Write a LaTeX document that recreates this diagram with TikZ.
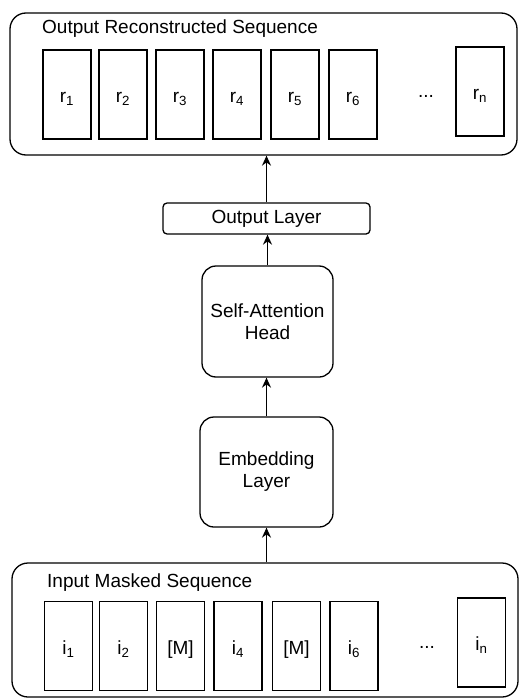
\documentclass[tikz,border=0pt]{standalone}
\usepackage{fontspec}
\setmainfont{Liberation Sans}
\usetikzlibrary{arrows.meta}
\begin{document}
\begin{tikzpicture}[x=1pt,y=-1pt,
  every node/.style={font=\fontsize{19}{22}\selectfont, text=black},
  container/.style={draw, line width=1.3pt, rounded corners=16pt, inner sep=0pt},
  title/.style={anchor=base west, inner sep=0pt},
  tok/.style={draw, line width=1.3pt, minimum width=48pt, minimum height=89pt, inner sep=0pt, text height=19pt, text depth=3pt},
  layer/.style={draw, line width=1.3pt, rounded corners=14pt, align=center, inner sep=0pt},
  flow/.style={line width=1.4pt, -{Stealth[length=10pt,width=9pt]}}
]
\useasboundingbox (0,0) rectangle (519,698);
% containers
\node[container, minimum width=507pt, minimum height=142pt] (out) at (263.5,84) {};
\node[container, minimum width=506pt, minimum height=134pt] (in) at (265,630) {};
\node[title] (outtitle) at (42,34) {Output Reconstructed Sequence};
\node[title] (intitle) at (47,587) {Input Masked Sequence};
% output tokens
\node[tok] (r1) at (67,94.5) {r\textsubscript{1}};
\node[tok] (r2) at (123,94.5) {r\textsubscript{2}};
\node[tok] (r3) at (180,94.5) {r\textsubscript{3}};
\node[tok] (r4) at (237,94.5) {r\textsubscript{4}};
\node[tok] (r5) at (295,94.5) {r\textsubscript{5}};
\node[tok] (r6) at (353,94.5) {r\textsubscript{6}};
\node (rdots) at (426,96) {...};
\node[tok] (rn) at (480,91.5) {r\textsubscript{n}};
% input tokens
\node[tok] (i1) at (68.5,646) {i\textsubscript{1}};
\node[tok] (i2) at (123.5,646) {i\textsubscript{2}};
\node[tok] (i3) at (180.5,646) {[M]};
\node[tok] (i4) at (238,646) {i\textsubscript{4}};
\node[tok] (i5) at (296.5,646) {[M]};
\node[tok] (i6) at (354,646) {i\textsubscript{6}};
\node (idots) at (427,647) {...};
\node[tok] (in1) at (481.5,642.5) {i\textsubscript{n}};
% layers
\node[layer, rounded corners=4pt, minimum width=207pt, minimum height=31pt] (ol) at (266.5,218.5) {Output Layer};
\node[layer, minimum width=131pt, minimum height=111pt] (sa) at (267.5,321.5) {Self-Attention\\Head};
\node[layer, minimum width=133pt, minimum height=110pt] (emb) at (266.5,472) {Embedding\\Layer};
% connectors
\draw[flow] (in.north -| emb.south) -- (emb.south);
\draw[flow] (emb.north) -- (emb.north |- sa.south);
\draw[flow] (sa.north) -- (sa.north |- ol.south);
\draw[flow] (ol.north) -- (ol.north |- out.south);
\end{tikzpicture}
\end{document}
